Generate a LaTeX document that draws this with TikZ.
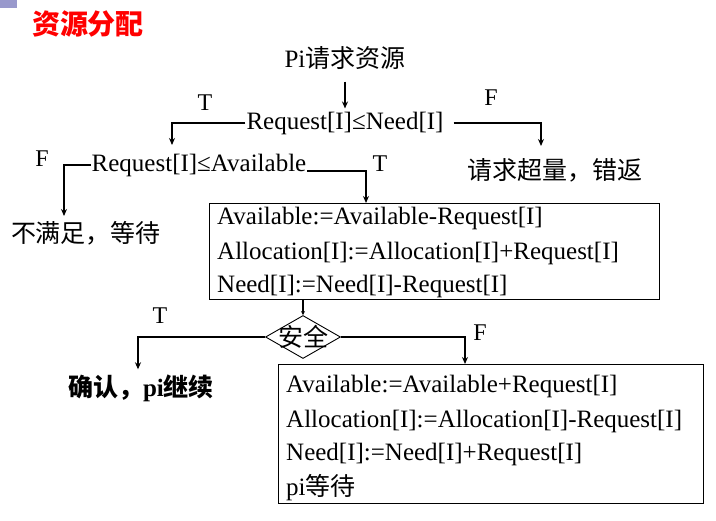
\documentclass[tikz,border=0pt]{standalone}
\usepackage{fontspec}
\setmainfont{Liberation Serif}
\newfontfamily\cjk{Noto Sans CJK SC}
\usetikzlibrary{shapes.geometric,arrows.meta,calc}
\begin{document}
\begin{tikzpicture}[x=1pt,y=-1pt,
  txt/.style={inner sep=1pt, font=\fontsize{25}{29}\selectfont},
  lab/.style={inner sep=0pt, font=\fontsize{24}{28}\selectfont},
  ln/.style={line width=1.6pt},
  arr/.style={line width=1.6pt, -{Stealth[length=7pt,width=6pt]}},
  boxstyle/.style={draw, line width=1.2pt, anchor=north west, inner sep=0pt},
  boxline/.style={anchor=west, inner sep=0pt, font=\fontsize{25}{29}\selectfont},
  ]
\useasboundingbox (0,0) rectangle (716,521);
\fill[fill={rgb,255:red,153;green,153;blue,204}] (0,0) rectangle (17,8);
\node[inner sep=0pt, text=red, font=\fontsize{28}{32}\selectfont\cjk\bfseries] (title) at (88,24) {资源分配};

\node[txt] (pi) at (345,58) {Pi{\cjk 请求资源}};
\node[txt] (c1) at (345,123) {Request[I]≤Need[I]};
\node[txt] (c2) at (199,165) {Request[I]≤Available};
\node[txt] (over) at (555,170) {\cjk 请求超量，错返};
\node[txt] (wait) at (86,233) {\cjk 不满足，等待};

\node[lab] (lt1) at (205,103) {T};
\node[lab] (lf1) at (491,98) {F};
\node[lab] (lf2) at (42,159) {F};
\node[lab] (lt2) at (380,164) {T};

\node[boxstyle, minimum width=450pt, minimum height=96pt] (box1) at (209,203) {};
\node[boxline] (b1a) at (217,218) {Available:=Available-Request[I]};
\node[boxline] (b1b) at (217,253) {Allocation[I]:=Allocation[I]+Request[I]};
\node[boxline] (b1c) at (217,286) {Need[I]:=Need[I]-Request[I]};

\node[draw, shape=diamond, line width=0.9pt, inner sep=0pt, minimum width=75pt, minimum height=43pt, font=\fontsize{25}{29}\selectfont] (safe) at (303,337) {\makebox[0pt]{\cjk 安全}};

\node[lab] (lt3) at (160,316) {T};
\node[lab] (lf3) at (480,333) {F};

\node[txt, font=\fontsize{25}{29}\selectfont\bfseries] (ok) at (141,388) {{\cjk 确认，}pi{\cjk 继续}};

\node[boxstyle, minimum width=425pt, minimum height=139pt] (box2) at (278,364) {};
\node[boxline] (b2a) at (286,386) {Available:=Available+Request[I]};
\node[boxline] (b2b) at (286,421) {Allocation[I]:=Allocation[I]-Request[I]};
\node[boxline] (b2c) at (286,454) {Need[I]:=Need[I]+Request[I]};
\node[boxline] (b2d) at (286,488) {pi{\cjk 等待}};

\coordinate (t1tip) at (172,145);
\coordinate (f1tip) at (541,146);
\coordinate (f2tip) at (64,216);

\draw[arr] ($(pi.south)+(0,11)$) -- ($(c1.north)+(0,-2)$);
\draw[arr] (c1.west) -| (t1tip);
\draw[arr] ($(c1.east)+(9,0)$) -| (f1tip);
\draw[arr] (c2.west) -| (f2tip);
\draw[arr] (c2.base east) -| ($(box1.north west)+(157,0)$);
\draw[ln, -{Stealth[length=4pt,width=4pt]}] (box1.south -| safe.north) -- (safe.north);
\draw[arr] (safe.west) -| ($(ok.north)+(-3,-4)$);
\draw[arr] (safe.east) -| ($(box2.north west)+(187,0)$);
\end{tikzpicture}
\end{document}
